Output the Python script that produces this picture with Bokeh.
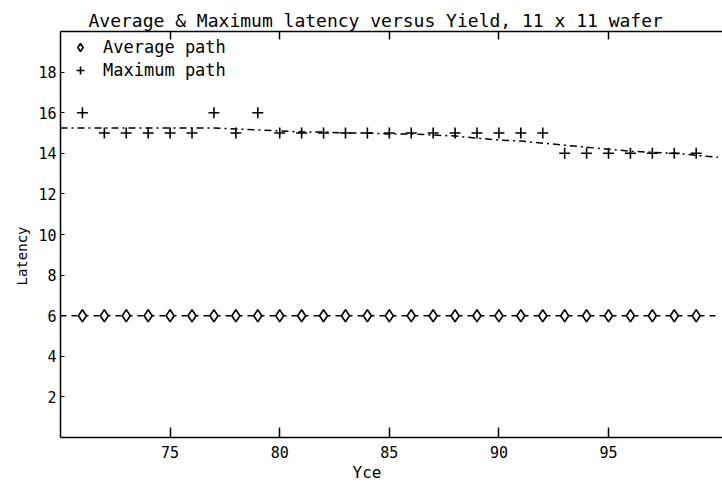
from bokeh.plotting import figure
from bokeh.models import (LinearAxis, FixedTicker, Range1d, Legend, LegendItem,
                          CustomJSTickFormatter, Title)
from bokeh.embed import file_html
from bokeh.resources import INLINE

FONT = "DejaVu Sans Mono"

title_text = "Average & Maximum latency versus Yield, 11 x 11 wafer"
x_label = "Yce"
y_label = "Latency"

x_ticks = [75, 80, 85, 90, 95]
y_ticks = [2, 4, 6, 8, 10, 12, 14, 16, 18]

# Average path (diamonds)
avg_yield = [71, 72, 73, 74, 75, 76, 77, 78, 79, 80, 81, 82, 83, 84, 85,
             86, 87, 88, 89, 90, 91, 92, 93, 94, 95, 96, 97, 98, 99]
avg_latency = [6, 6, 6, 6, 6, 6, 6, 6, 6, 6, 6, 6, 6, 6, 6,
               6, 6, 6, 6, 6, 6, 6, 6, 6, 6, 6, 6, 6, 6]
avg_line_yield = [70, 100]
avg_line_latency = [6, 6]

# Maximum path (plus signs)
max_yield = [71, 72, 73, 74, 75, 76, 77, 78, 79, 80, 81, 82, 83, 84, 85,
             86, 87, 88, 89, 90, 91, 92, 93, 94, 95, 96, 97, 98, 99]
max_latency = [16, 15, 15, 15, 15, 15, 16, 15, 16, 15, 15, 15, 15, 15, 15,
               15, 15, 15, 15, 15, 15, 15, 14, 14, 14, 14, 14, 14, 14]

# Maximum path trend (dash-dot line)
trend_yield = [70, 71, 72, 73, 74, 75, 76, 77, 78, 79, 80, 81, 82, 83, 84, 85,
               86, 87, 88, 89, 90, 91, 92, 93, 94, 95, 96, 97, 98, 99, 100]
trend_latency = [15.25, 15.25, 15.25, 15.25, 15.25, 15.25, 15.25, 15.25, 15.2, 15.15,
                 15.1, 15.05, 15.05, 15.0, 15.0, 14.95, 14.95, 14.9, 14.85, 14.75,
                 14.65, 14.6, 14.5, 14.4, 14.3, 14.2, 14.1, 14.05, 14.0, 13.9, 13.8]

p = figure(width=722, height=483, x_range=Range1d(70, 100.2), y_range=Range1d(0, 20),
           output_backend="svg", toolbar_location=None,
           min_border_left=60, min_border_right=0, min_border_top=31, min_border_bottom=46)
p.outline_line_color = None
p.grid.visible = False
p.background_fill_color = "white"

p.title = Title(text=title_text, align="left", offset=28, standoff=2,
                text_font=FONT, text_font_size="18px", text_font_style="normal",
                text_color="black")

# bottom axis
xa = p.xaxis[0]
xa.ticker = FixedTicker(ticks=x_ticks)
xa.major_tick_in = 10
xa.major_tick_out = 0
xa.minor_tick_line_color = None
xa.axis_line_color = "black"
xa.axis_line_width = 1.5
xa.major_tick_line_width = 1.5
xa.major_label_standoff = 8
xa.major_label_text_font = FONT
xa.major_label_text_font_size = "15px"
xa.major_label_text_color = "black"

# left axis
ya = p.yaxis[0]
ya.ticker = FixedTicker(ticks=y_ticks)
ya.major_tick_in = 4
ya.major_tick_out = 0
ya.minor_tick_line_color = None
ya.axis_line_color = "black"
ya.axis_line_width = 1.5
ya.major_label_standoff = 4
ya.major_label_text_font = FONT
ya.major_label_text_font_size = "15px"
ya.major_label_text_color = "black"

# top axis (frame with inward ticks, no labels)
top = LinearAxis(ticker=FixedTicker(ticks=x_ticks), major_tick_in=8, major_tick_out=0,
                 minor_tick_line_color=None, axis_line_width=1.5, major_tick_line_width=1.5,
                 formatter=CustomJSTickFormatter(code="return ''"),
                 major_label_text_font_size="0px", major_label_standoff=0)
p.add_layout(top, "above")

# axis titles
p.add_layout(Title(text=x_label, align="left", offset=292, standoff=0,
                   text_font=FONT, text_font_size="16px", text_font_style="normal",
                   text_color="black"), "below")
p.add_layout(Title(text=y_label, align="left", offset=152, standoff=11,
                   text_font=FONT, text_font_size="14px", text_font_style="normal",
                   text_color="black"), "left")

# data
p.line(avg_line_yield, avg_line_latency, line_color="black", line_width=1.5, line_dash="6 5")
r_avg = p.scatter(avg_yield, avg_latency, marker="diamond", size=12, line_color="black",
                  line_width=1.6, fill_color="white")
p.line(trend_yield, trend_latency, line_color="black", line_width=1.5, line_dash="7 4 2 4")
r_max = p.scatter(max_yield, max_latency, marker="cross", size=11, line_color="black",
                  line_width=1.6)

legend = Legend(items=[LegendItem(label="Average path", renderers=[r_avg]),
                       LegendItem(label="Maximum path", renderers=[r_max])],
                location="top_left", border_line_color=None, background_fill_alpha=0,
                padding=0, margin=6, glyph_width=28, glyph_height=20, spacing=3,
                label_standoff=9, label_text_font=FONT, label_text_font_size="17px",
                label_text_color="black")
p.add_layout(legend)

open("out.html", "w").write(file_html(p, INLINE))
